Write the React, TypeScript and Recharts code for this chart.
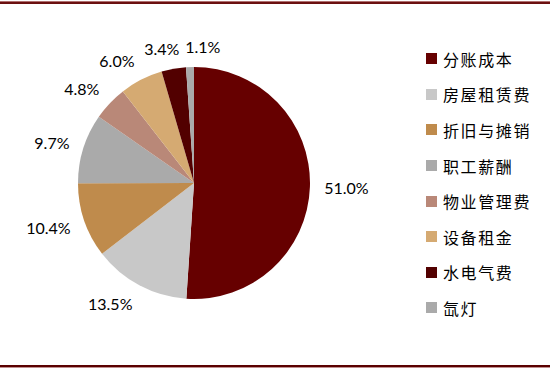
import React from "react";
import { PieChart, Pie, Cell, Legend } from "recharts";

const categories = ["分账成本", "房屋租赁费", "折旧与摊销", "职工薪酬", "物业管理费", "设备租金", "水电气费", "氙灯"];
const shares = [51.0, 13.5, 10.4, 9.7, 4.8, 6.0, 3.4, 1.1];
const colors = ["#660000", "#c8c8c8", "#bf8b4c", "#aaaaaa", "#b98878", "#d5aa72", "#520000", "#aaaaaa"];

const data = categories.map((name, i) => ({ name, value: shares[i] }));

const RADIAN = Math.PI / 180;
const CX = 194;
const CY = 183;
const R = 116;
const FONT = 16;

const fmt = (v: number) => `${v.toFixed(1)}%`;

// Pre-compute label boxes from the same angles Recharts uses, then resolve overlaps.
const total = shares.reduce((a, b) => a + b, 0);
const labelBoxes = (() => {
  const boxes: { x: number; y: number; hw: number }[] = [];
  let cum = 0;
  shares.forEach((v, i) => {
    const mid = 90 - ((cum + v / 2) / total) * 360;
    cum += v;
    const dx = Math.cos(-mid * RADIAN);
    const dy = Math.sin(-mid * RADIAN);
    const r = R + 14;
    const hw = fmt(v).length * 4.5;
    const k = Math.max(-1, Math.min(1, dx * 3));
    let x = CX + r * dx + hw * k;
    const y = CY + r * dy + 7 * dy;
    if (i > 0) {
      const p = boxes[i - 1];
      if (Math.abs(p.y - y) < 16 && Math.abs(p.x - x) < p.hw + hw + 4) {
        x = p.x + p.hw + hw + 5;
      }
    }
    boxes.push({ x, y, hw });
  });
  return boxes;
})();

const renderLabel = (props: any) => {
  const { index, value } = props;
  const b = labelBoxes[index];
  return (
    <text
      x={b.x}
      y={b.y}
      textAnchor="middle"
      dominantBaseline="central"
      fill="#000"
      style={{ fontFamily: "Lato, 'Liberation Sans', sans-serif", fontSize: FONT }}
    >
      {fmt(Number(value))}
    </text>
  );
};

const renderLegend = () => (
  <div style={{ display: "flex", flexDirection: "column" }}>
    {categories.map((name, i) => (
      <div key={name} style={{ height: 35.6, display: "flex", alignItems: "center" }}>
        <span style={{ width: 11, height: 11, background: colors[i], display: "inline-block", marginRight: 6 }} />
        <span
          style={{
            fontFamily: "'Noto Sans CJK SC', sans-serif",
            fontSize: 16,
            letterSpacing: 1.6,
            color: "#000",
            lineHeight: "16px",
          }}
        >
          {name}
        </span>
      </div>
    ))}
  </div>
);

export default function App() {
  return (
    <div style={{ position: "absolute", left: 0, top: 0, width: 550, height: 369, background: "#fff" }}>
      <div style={{ position: "absolute", left: 0, top: 1, width: 550, height: 1, background: "#b07070" }} />
      <div style={{ position: "absolute", left: 0, top: 2, width: 550, height: 2, background: "#6b1010" }} />
      <div style={{ position: "absolute", left: 0, top: 365, width: 550, height: 2, background: "#5a0000" }} />
      <div style={{ position: "absolute", left: 0, top: 367, width: 550, height: 1, background: "#c09090" }} />
      <PieChart
        width={550}
        height={369}
        margin={{ top: 0, right: 0, bottom: 0, left: 0 }}
        style={{ position: "absolute", left: 0, top: 0 }}
      >
        <Pie
          data={data}
          dataKey="value"
          nameKey="name"
          cx={CX}
          cy={CY}
          outerRadius={R}
          startAngle={90}
          endAngle={-270}
          stroke="none"
          label={renderLabel}
          labelLine={false}
          isAnimationActive={false}
        >
          {data.map((d, i) => (
            <Cell key={d.name} fill={colors[i]} />
          ))}
        </Pie>
        <Legend
          content={renderLegend}
          layout="vertical"
          align="right"
          verticalAlign="middle"
          wrapperStyle={{ position: "absolute", left: 426, top: 41, width: 124 }}
        />
      </PieChart>
    </div>
  );
}
